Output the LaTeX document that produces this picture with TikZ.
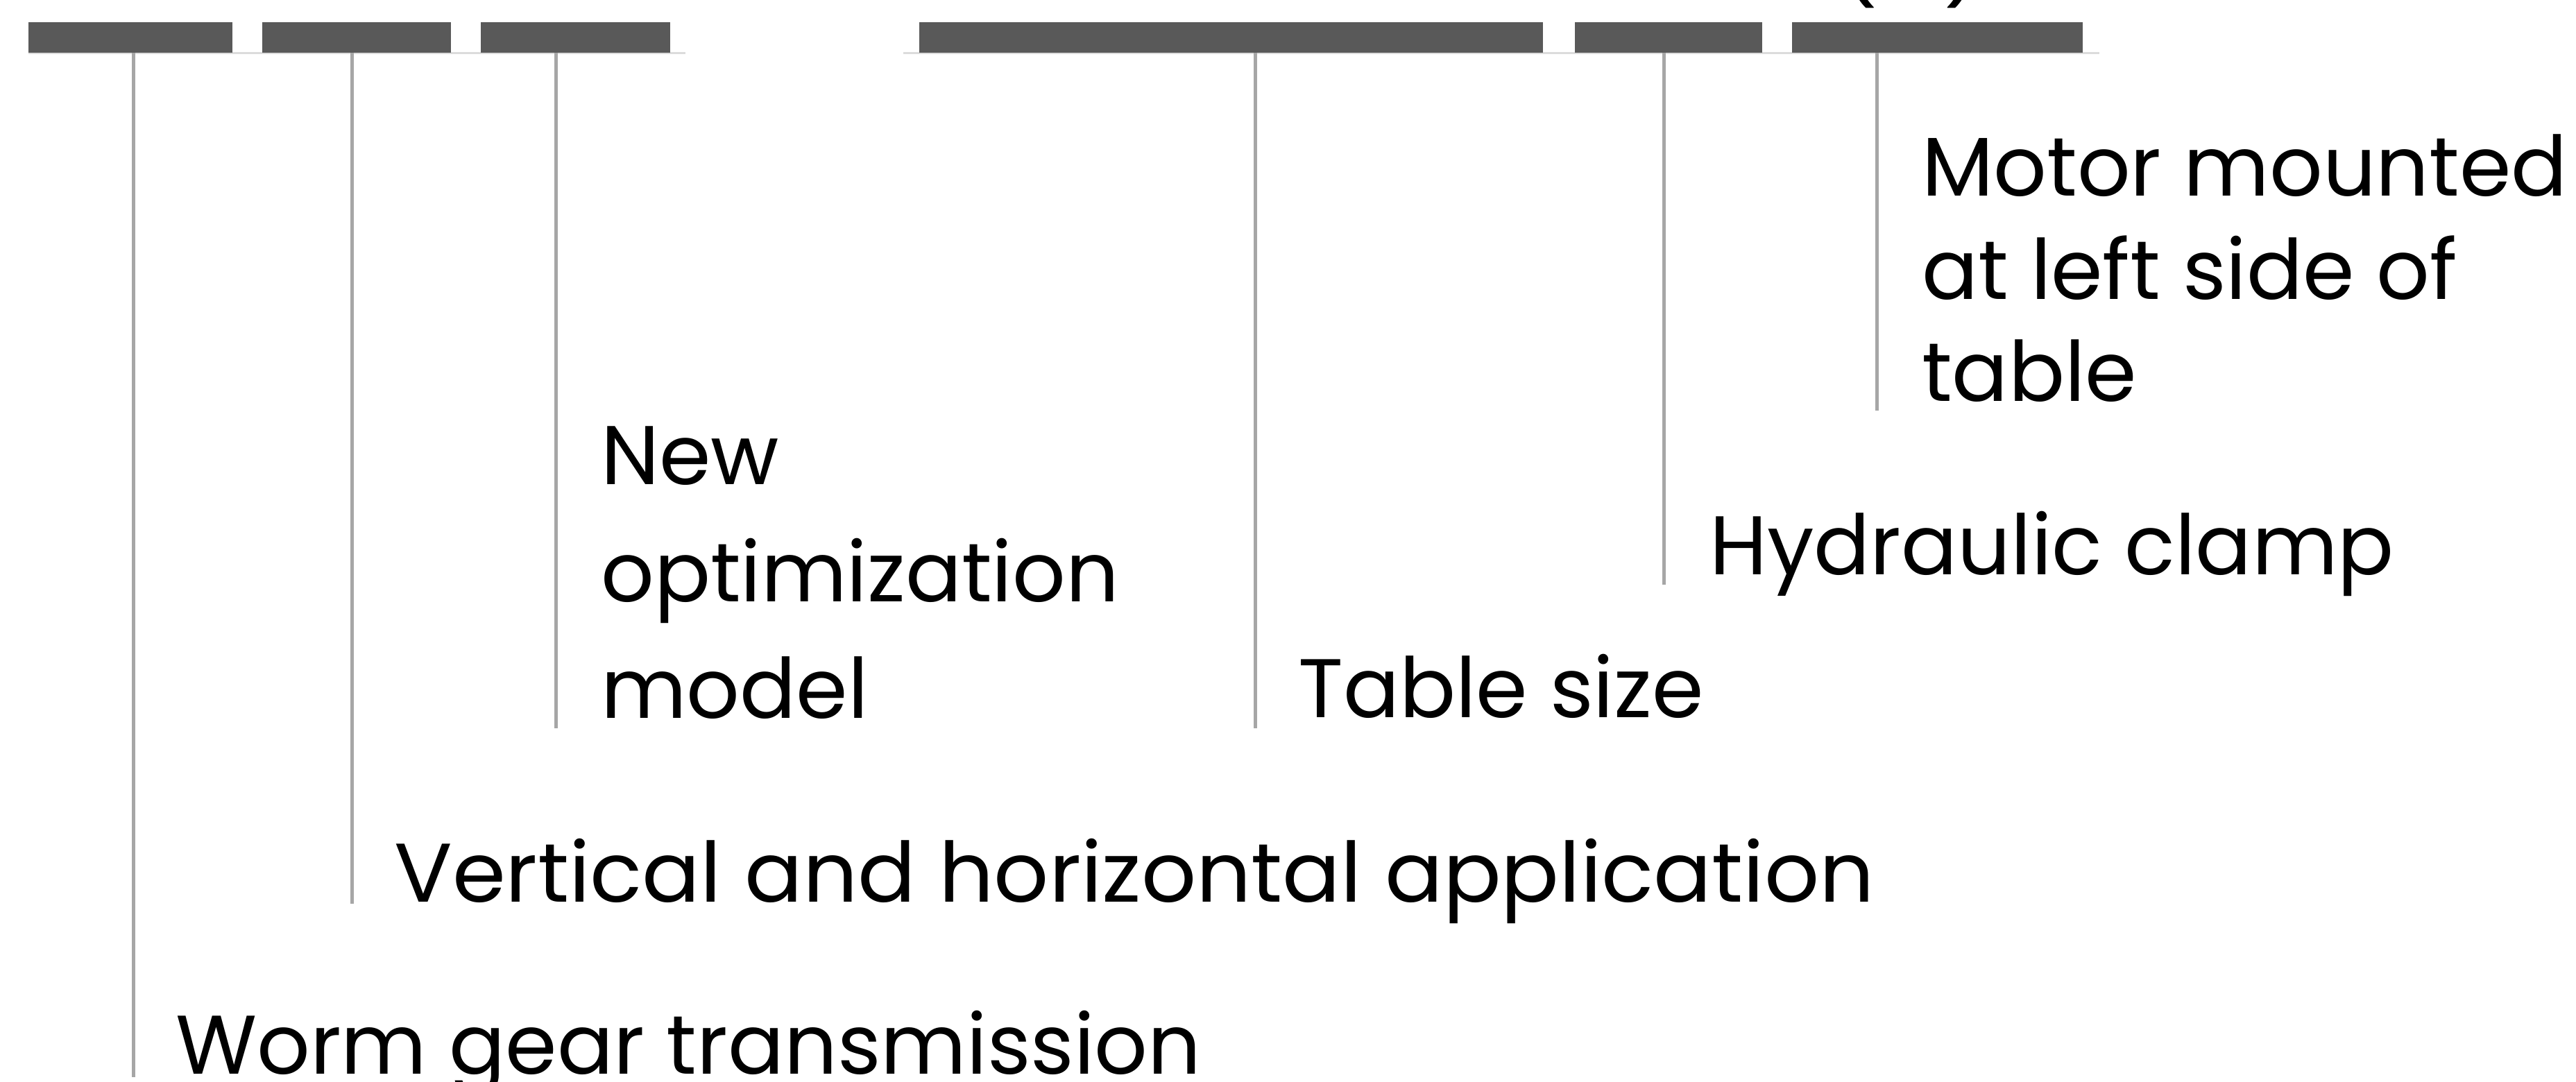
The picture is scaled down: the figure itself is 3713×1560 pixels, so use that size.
\documentclass[tikz,border=0pt]{standalone}
\usepackage{fontspec}
\setmainfont{Poppins}
\definecolor{barcol}{HTML}{595959}
\definecolor{leadcol}{HTML}{A6A6A6}
\definecolor{basecol}{HTML}{DCDCDC}
\tikzset{
  bar/.style={fill=barcol, draw=none, inner sep=0pt, minimum height=44pt},
  leader/.style={draw=leadcol, line width=5pt},
  baseln/.style={draw=basecol, line width=3pt},
  lbl/.style={anchor=base west, inner sep=0pt, text=black, font=\fontsize{120}{149}\selectfont},
}
\begin{document}
\begin{tikzpicture}[x=1pt,y=-1pt]
\useasboundingbox (0,0) rectangle (3713,1560);
\clip (0,0) rectangle (3713,1560);
\fill[white] (0,0) rectangle (3713,1560);

% thin base lines under the bars
\coordinate (gl1) at (41,77);
\coordinate (gl2) at (988,77);
\coordinate (gr1) at (1302,77);
\coordinate (gr2) at (3026,77);
\draw[baseln] (gl1) -- (gl2);
\draw[baseln] (gr1) -- (gr2);

% bars
\node[bar, minimum width=294pt] (b1) at (188,54) {};
\node[bar, minimum width=272pt] (b2) at (514,54) {};
\node[bar, minimum width=273pt] (b3) at (829.5,54) {};
\node[bar, minimum width=899pt] (b4) at (1774.5,54) {};
\node[bar, minimum width=270pt] (b5) at (2405,54) {};
\node[bar, minimum width=419pt] (b6) at (2792.5,54) {};

% cut-off text above the picture
\node[lbl] (top) at (2652,-10) {(\hspace{95pt})};

% leader end points
\coordinate (e1) at (192,1553);
\coordinate (e2) at (507,1303);
\coordinate (e3) at (801,1050);
\coordinate (e4) at (1809,1050);
\coordinate (e5) at (2398,843);
\coordinate (e6) at (2705,592);

\draw[leader] (e1 |- b1.south) -- (e1);
\draw[leader] (e2 |- b2.south) -- (e2);
\draw[leader] (e3 |- b3.south) -- (e3);
\draw[leader] (e4 |- b4.south) -- (e4);
\draw[leader] (e5 |- b5.south) -- (e5);
\draw[leader] (e6 |- b6.south) -- (e6);

% labels
\node[lbl] (worm) at (253,1548) {Worm gear transmission};
\node[lbl] (vert) at (568,1300) {\scalebox{1.033}[1]{Vertical and horizontal application}};
\node[lbl] (new1) at (866,698) {New};
\node[lbl] (new2) at (866,867) {optimization};
\node[lbl] (new3) at (866,1035) {model};
\node[lbl] (table) at (1871,1034) {Table size};
\node[lbl] (hydr) at (2464,828) {Hydraulic clamp};
\node[lbl] (mot1) at (2770,282) {Motor mounted};
\node[lbl] (mot2) at (2770,431) {at left side of};
\node[lbl] (mot3) at (2770,578) {table};
\end{tikzpicture}
\end{document}
